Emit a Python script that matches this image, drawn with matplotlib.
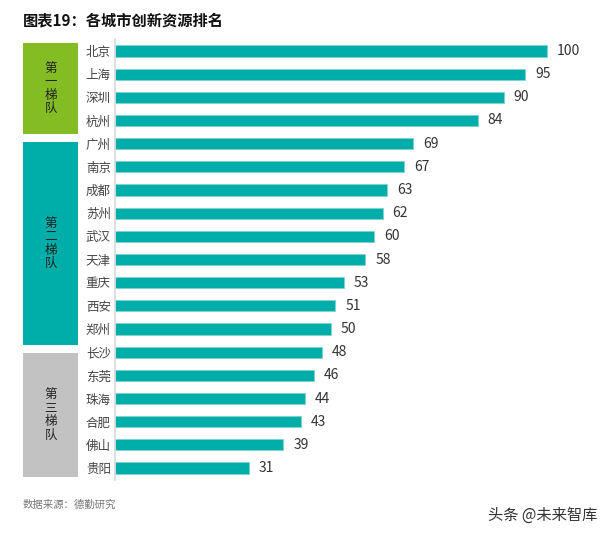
import matplotlib
matplotlib.use("Agg")
import matplotlib.pyplot as plt
import matplotlib.transforms as mtransforms
from matplotlib.patches import Rectangle

plt.rcParams['font.family'] = ['Noto Sans CJK SC', 'DejaVu Sans']

cities = ["北京", "上海", "深圳", "杭州", "广州", "南京", "成都", "苏州", "武汉",
          "天津", "重庆", "西安", "郑州", "长沙", "东莞", "珠海", "合肥", "佛山", "贵阳"]
scores = [100, 95, 90, 84, 69, 67, 63, 62, 60, 58, 53, 51, 50, 48, 46, 44, 43, 39, 31]

tier_names = ["第\n一\n梯\n队", "第\n二\n梯\n队", "第\n三\n梯\n队"]
tier_colors = ["#84bc23", "#00aea9", "#c1c2c1"]

W, H = 611, 534
fig = plt.figure(figsize=(W / 100, H / 100), dpi=100)
ax = fig.add_axes([115 / W, 1 - 479.6 / H, (600 - 115) / W, (479.6 - 39.4) / H])

ypos = list(range(len(cities)))
ax.barh(ypos, scores, height=0.48, color="#00aea9", edgecolor="#7fd3cf", linewidth=0.6)
ax.set_ylim(len(cities) - 0.5, -0.5)
ax.set_xlim(0, 112.3)

for y, v in zip(ypos, scores):
    ax.text(v + 2.3, y, str(v), va="center", ha="left", fontsize=10, color="#333333")

ax.set_yticks(ypos)
ax.set_yticklabels(cities, fontsize=9, color="#444444")
ax.tick_params(axis="y", length=0, pad=3)
ax.set_xticks([])
for s in ["top", "right", "bottom"]:
    ax.spines[s].set_visible(False)
ax.spines["left"].set_color("#d9d9d9")
ax.spines["left"].set_linewidth(1.2)

# tier boxes on the left
trans = mtransforms.blended_transform_factory(fig.transFigure, ax.transData)
box_spans = [(-0.345, 3.58), (3.93, 12.69), (13.03, 18.39)]
for (y0, y1), name, col in zip(box_spans, tier_names, tier_colors):
    rect = Rectangle((23 / W, y0), (78 - 23) / W, y1 - y0, transform=trans,
                     facecolor=col, edgecolor="none", clip_on=False)
    fig.add_artist(rect)
    fig.text(50.5 / W, (y0 + y1) / 2, name, transform=trans, fontsize=9,
             color="#222222", ha="center", va="center", linespacing=1.05)

fig.text(23 / W, 1 - 20 / H, "图表19：各城市创新资源排名", fontsize=11,
         fontweight="bold", ha="left", va="center", color="#111111")
fig.text(23 / W, 1 - 505 / H, "数据来源：德勤研究", fontsize=7.5, ha="left",
         va="center", color="#777777")
fig.text(597 / W, 1 - 515 / H, "头条 @未来智库", fontsize=11, ha="right",
         va="center", color="#333333")

fig.savefig("out.png", dpi=100)
